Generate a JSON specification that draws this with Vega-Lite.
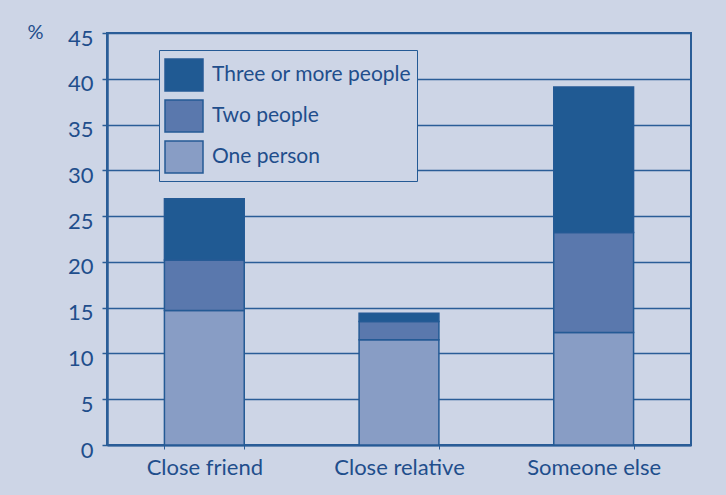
{
  "$schema": "https://vega.github.io/schema/vega-lite/v6.json",
  "width": 584,
  "height": 412,
  "autosize": {"type": "none"},
  "padding": {"left": 107, "top": 33, "right": 35, "bottom": 50},
  "background": "#cdd5e6",
  "config": {
    "font": "Lato",
    "view": {"stroke": "#2a5d97", "strokeWidth": 2},
    "axis": {"labelFont": "Lato", "titleFont": "Lato"}
  },
  "data": {
    "values": [
      {"relation": "Close friend", "group": "One person", "k": 1, "pct": 14.7},
      {"relation": "Close friend", "group": "Two people", "k": 2, "pct": 5.5},
      {"relation": "Close friend", "group": "Three or more people", "k": 3, "pct": 6.7},
      {"relation": "Close relative", "group": "One person", "k": 1, "pct": 11.5},
      {"relation": "Close relative", "group": "Two people", "k": 2, "pct": 2.0},
      {"relation": "Close relative", "group": "Three or more people", "k": 3, "pct": 0.9},
      {"relation": "Someone else", "group": "One person", "k": 1, "pct": 12.3},
      {"relation": "Someone else", "group": "Two people", "k": 2, "pct": 10.9},
      {"relation": "Someone else", "group": "Three or more people", "k": 3, "pct": 15.9}
    ]
  },
  "mark": {"type": "bar", "stroke": "#245a95", "strokeWidth": 1.5},
  "encoding": {
    "x": {
      "field": "relation",
      "type": "nominal",
      "sort": ["Close friend", "Close relative", "Someone else"],
      "scale": {"paddingInner": 0.59, "paddingOuter": 0.295},
      "axis": {
        "title": null,
        "labelAngle": 0,
        "labelFontSize": 22,
        "labelColor": "#1f4e8c",
        "labelPadding": 8,
        "tickBand": "extent",
        "tickSize": 4,
        "tickWidth": 1,
        "tickColor": "#2a5d97",
        "domainColor": "#2a5d97",
        "domainWidth": 2
      }
    },
    "y": {
      "field": "pct",
      "type": "quantitative",
      "stack": "zero",
      "scale": {"domain": [0, 45], "nice": false},
      "axis": {
        "title": "%",
        "titleAngle": 0,
        "titleAlign": "left",
        "titleBaseline": "alphabetic",
        "titleX": -80,
        "titleY": 5,
        "titleFontSize": 20,
        "titleFontWeight": "normal",
        "titleColor": "#1f4e8c",
        "values": [0, 5, 10, 15, 20, 25, 30, 35, 40, 45],
        "labelFontSize": 22,
        "labelColor": "#1f4e8c",
        "labelPadding": 9,
        "labelOffset": 5,
        "tickSize": 5,
        "tickWidth": 1.5,
        "tickColor": "#2a5d97",
        "domainColor": "#2a5d97",
        "domainWidth": 2.5,
        "grid": true,
        "gridColor": "#2a5d97",
        "gridWidth": 1.5,
        "gridOpacity": 1
      }
    },
    "color": {
      "field": "group",
      "type": "nominal",
      "scale": {
        "domain": ["Three or more people", "Two people", "One person"],
        "range": ["#205a93", "#5a78ad", "#889dc5"]
      },
      "legend": {
        "title": null,
        "orient": "none",
        "legendX": 52,
        "legendY": 17,
        "fillColor": "#cdd5e6",
        "strokeColor": "#245a95",
        "padding": 5,
        "symbolType": "M-1,-0.84H1V0.84H-1Z",
        "symbolSize": 1444,
        "symbolStrokeColor": "#245a95",
        "symbolStrokeWidth": 1.5,
        "symbolOpacity": 1,
        "labelFontSize": 21,
        "labelLimit": 0,
        "labelColor": "#1f4e8c",
        "labelOffset": 8,
        "rowPadding": 2
      }
    },
    "order": {"field": "k", "type": "quantitative"}
  }
}
